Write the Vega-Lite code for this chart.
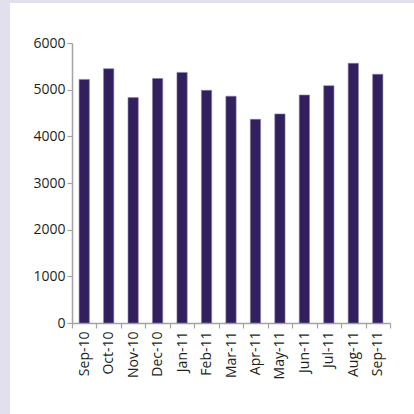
{
  "$schema": "https://vega.github.io/schema/vega-lite/v6.json",
  "autosize": {"type": "none"},
  "width": 404,
  "height": 411,
  "padding": {"left": 10, "top": 3, "right": 0, "bottom": 0},
  "background": "#e3e0ee",
  "data": {
    "values": [
      {"month": "Sep-10", "value": 5220},
      {"month": "Oct-10", "value": 5450},
      {"month": "Nov-10", "value": 4830},
      {"month": "Dec-10", "value": 5240},
      {"month": "Jan-11", "value": 5370},
      {"month": "Feb-11", "value": 4985},
      {"month": "Mar-11", "value": 4860},
      {"month": "Apr-11", "value": 4365},
      {"month": "May-11", "value": 4480},
      {"month": "Jun-11", "value": 4885},
      {"month": "Jul-11", "value": 5085},
      {"month": "Aug-11", "value": 5565},
      {"month": "Sep-11", "value": 5330}
    ]
  },
  "mark": {"type": "bar", "color": "#32205e", "width": {"band": 0.42}, "stroke": "#8a7fa8", "strokeWidth": 0.6},
  "encoding": {
    "x": {
      "field": "month",
      "type": "nominal",
      "sort": null,
      "scale": {"range": [62, 380], "paddingInner": 0, "paddingOuter": 0},
      "axis": {
        "title": null,
        "labelAngle": -90,
        "offset": -91,
        "tickBand": "extent",
        "labelPadding": 3
      }
    },
    "y": {
      "field": "value",
      "type": "quantitative",
      "scale": {"domain": [0, 6000], "range": [320, 40], "nice": false},
      "axis": {
        "title": null,
        "values": [0, 1000, 2000, 3000, 4000, 5000, 6000],
        "format": "d",
        "offset": -62,
        "grid": false,
        "labelPadding": 2
      }
    }
  },
  "config": {
    "view": {"fill": "white", "stroke": null},
    "axis": {
      "domainColor": "#a3a3a3",
      "domainWidth": 1.5,
      "tickColor": "#a3a3a3",
      "tickWidth": 1.2,
      "tickSize": 5,
      "labelFont": "Open Sans",
      "labelFontSize": 14,
      "labelColor": "#231f20"
    }
  }
}
